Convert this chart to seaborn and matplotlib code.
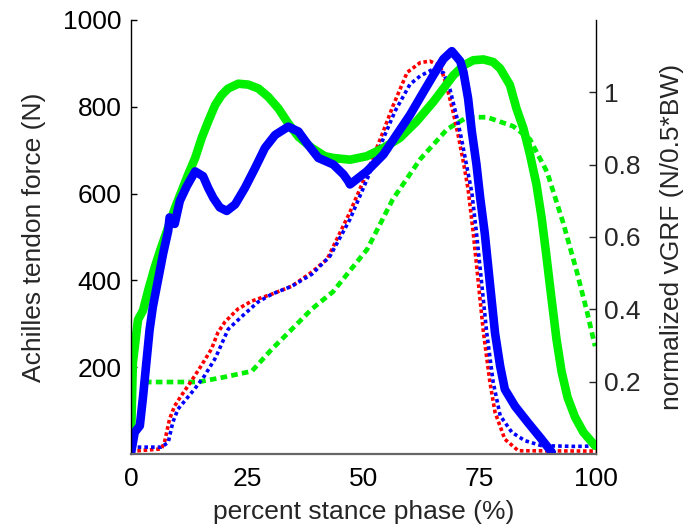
import matplotlib
matplotlib.use("Agg")
import matplotlib.pyplot as plt
import numpy as np
import pandas as pd
import seaborn as sns
from matplotlib.ticker import FuncFormatter

# Achilles tendon force (N), left axis
green_x = [0, 0.06, 0.4, 1.5, 2.6, 3.7, 5.1, 6.5, 8.0, 9.5, 10.9, 12.3, 13.8, 15.2, 16.6, 18.1, 19.5,
           20.9, 23.1, 25.2, 27.4, 29.5, 31.7, 33.8, 36.0, 38.9, 41.7, 43.5, 47.1, 50.7, 54.3, 57.8,
           61.4, 65.0, 67.2, 69.3, 71.5, 73.6, 75.8, 77.9, 79.4, 81.5, 82.9, 84.4, 85.8, 87.2, 88.3,
           89.3, 90.3, 91.5, 92.6, 93.9, 95.5, 97.3, 99.8]
green_f = [40, 57, 210, 309, 331, 377, 430, 476, 522, 568, 606, 644, 682, 728, 766, 804, 827,
           842, 853, 851, 842, 823, 796, 762, 731, 705, 686, 682, 678, 686, 705, 728,
           766, 811, 842, 872, 895, 907, 909, 903, 888, 850, 796, 750, 690, 621, 545,
           460, 370, 265, 190, 130, 85, 50, 19]

blue_x = [0.06, 0.8, 1.9, 2.6, 3.3, 4.0, 4.7, 5.8, 6.9, 8.0, 8.3, 9.4, 10.5, 12.0, 13.8, 15.5, 16.6,
          17.7, 19.1, 20.6, 22.4, 24.5, 26.7, 28.8, 31.0, 33.8, 36.0, 38.1, 40.3, 43.5, 45.7, 46.7,
          47.1, 50.7, 54.3, 57.1, 60.0, 62.9, 65.0, 67.2, 69.0, 70.8, 71.5, 72.5, 73.3, 74.3, 75.1,
          76.1, 77.2, 78.3, 79.4, 80.4, 82.6, 85.4, 88.3, 90.5]
blue_f = [5, 50, 65, 133, 210, 286, 339, 400, 461, 514, 545, 530, 583, 617, 651, 640, 613,
          590, 568, 560, 575, 613, 659, 705, 735, 754, 743, 712, 682, 667, 644, 629,
          621, 651, 690, 735, 781, 834, 872, 910, 928, 905, 880, 819, 743, 667, 590,
          507, 392, 278, 202, 149, 110, 72, 34, 4]

# normalized vGRF (N/0.5*BW), right axis
red_x = [0, 1.5, 6.5, 7.2, 8.3, 9.4, 10.8, 12.3, 13.7, 15.1, 17.3, 18.7, 20.2, 23.0, 26.0, 30.3,
         34.6, 38.9, 42.2, 47.1, 50.8, 54.2, 56.3, 59.4, 62.2, 64.3, 66.5, 67.9, 69.3, 70.4, 71.5,
         72.5, 73.6, 74.7, 75.8, 77.2, 78.3, 80.4, 83.3, 100]
red_v = [0.008, 0.009, 0.014, 0.032, 0.097, 0.133, 0.161, 0.189, 0.216, 0.244, 0.290, 0.336,
         0.365, 0.401, 0.423, 0.442, 0.464, 0.503, 0.539, 0.669, 0.779, 0.890, 0.961, 1.055,
         1.082, 1.086, 1.073, 1.017, 0.944, 0.879, 0.806, 0.732, 0.612, 0.474, 0.336, 0.198,
         0.115, 0.041, 0.009, 0.008]

bdot_x = [0, 1.5, 6.5, 8.0, 9.0, 10.1, 11.9, 13.7, 15.8, 18.0, 18.7, 20.9, 23.9, 27.3, 30.3, 34.6,
          38.9, 42.8, 47.1, 50.8, 54.2, 56.8, 60.0, 62.2, 65.0, 67.2, 68.6, 70.0, 71.1, 72.2, 73.3,
          74.3, 75.4, 76.5, 77.9, 79.4, 81.9, 84.7, 88.3, 95.5, 99.6]
bdot_v = [0.019, 0.019, 0.019, 0.032, 0.088, 0.124, 0.152, 0.180, 0.216, 0.262, 0.281, 0.345,
          0.381, 0.420, 0.442, 0.464, 0.497, 0.547, 0.649, 0.760, 0.870, 0.948, 1.022, 1.045,
          1.064, 1.054, 1.008, 0.935, 0.870, 0.796, 0.723, 0.612, 0.474, 0.336, 0.198, 0.106,
          0.060, 0.037, 0.023, 0.021, 0.022]

gdot_x = [3.0, 14.4, 20.2, 26.0, 30.3, 34.6, 38.9, 43.4, 50.8, 56.3, 62.2, 68.0, 72.3, 76.6, 82.2,
          85.8, 89.5, 92.9, 95.9, 98.1, 99.8]
gdot_v = [0.199, 0.199, 0.213, 0.229, 0.290, 0.345, 0.401, 0.448, 0.566, 0.704, 0.815, 0.898,
          0.931, 0.931, 0.906, 0.870, 0.779, 0.641, 0.503, 0.392, 0.298]

x_ticks = [0, 25, 50, 75, 100]
left_ticks = [200, 400, 600, 800, 1000]
right_ticks = [0.2, 0.4, 0.6, 0.8, 1.0]

sns.set_style("white")
plt.rcParams['font.family'] = ['Liberation Sans', 'DejaVu Sans']

fig = plt.figure(figsize=(6.99, 5.31), dpi=100)
ax = fig.add_axes([0.1874, 0.145, 0.6652, 0.8175])
ax2 = ax.twinx()
ax.set_zorder(ax2.get_zorder() + 1)
ax.patch.set_visible(False)

green = '#00f000'
# dotted vGRF curves
sns.lineplot(x=gdot_x, y=gdot_v, ax=ax2, color=green, lw=3.4, linestyle=(0, (1.4, 0.9)),
             sort=False, estimator=None)
sns.lineplot(x=red_x, y=red_v, ax=ax2, color='#ff0000', lw=2.6, linestyle=(0, (1, 0.75)),
             sort=False, estimator=None)
sns.lineplot(x=bdot_x, y=bdot_v, ax=ax2, color='#0000ff', lw=2.6, linestyle=(0, (1, 0.85)),
             sort=False, estimator=None)

# solid tendon force curves
sns.lineplot(x=green_x, y=green_f, ax=ax, color=green, lw=6.2, sort=False, estimator=None)
sns.lineplot(x=blue_x, y=blue_f, ax=ax, color='#0000ff', lw=6.2, sort=False, estimator=None)

ax.set_xlim(0, 100)
ax.set_ylim(0, 1000)
ax2.set_ylim(0, 1.2)
ax.set_xticks(x_ticks)
ax.set_yticks(left_ticks)
ax2.set_yticks(right_ticks)
ax2.yaxis.set_major_formatter(FuncFormatter(lambda v, p: f"{v:g}"))

ax.tick_params(direction='in', labelsize=19, length=4, width=1, pad=7, colors='black')
ax.tick_params(axis='x', pad=9, color='#555555')
ax2.tick_params(direction='in', labelsize=19, length=5, width=1, pad=6)

for s in ['top', 'right']:
    ax.spines[s].set_visible(False)
for s in ['top', 'left', 'bottom']:
    ax2.spines[s].set_visible(False)
ax.spines['left'].set_color('black')
ax.spines['left'].set_linewidth(1.0)
ax.spines['bottom'].set_color('#666666')
ax.spines['bottom'].set_linewidth(1.6)
ax2.spines['right'].set_color('black')
ax2.spines['right'].set_linewidth(1.0)

ax.set_xlabel('percent stance phase (%)', fontsize=19, labelpad=7)
ax.set_ylabel('Achilles tendon force (N)', fontsize=19, labelpad=12)
ax2.set_ylabel('normalized vGRF (N/0.5*BW)', fontsize=19, labelpad=14)

fig.savefig('out.png', dpi=100)
